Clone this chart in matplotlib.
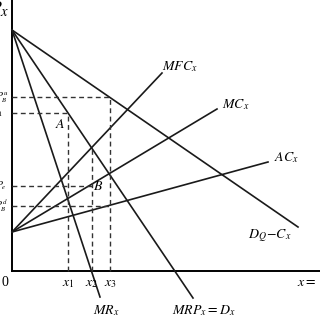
import matplotlib
matplotlib.use("Agg")
from matplotlib import pyplot as plt
import numpy as np

plt.rcParams['mathtext.fontset'] = 'stix'
plt.rcParams['font.family'] = 'Liberation Serif'

# demand side lines start on the price axis at this height
demand_top = 241
# cost side lines start here
cost_base = 39

# end points (x, y) of every line
demand_names = ["$D_Q\\!-\\!C_x$", "$MRP_x = D_x$", "$MR_x$"]
demand_ends = [(286, 44), (181, -27), (88, -26)]
cost_names = ["$MFC_x$", "$MC_x$", "$AC_x$"]
cost_ends = [(150, 198), (205, 162), (256, 109)]

# quantity levels and price levels for the dashed guides
x_levels = [56, 80, 98]
x_tops = [158, 123, 174]
y_levels = [174, 158, 85, 65]
y_rights = [98, 56, 80, 98]

fig = plt.figure(figsize=(3.2, 3.2), dpi=100)
ax = fig.add_axes([0, 0, 1, 1])
ax.set_xlim(-12, 308)
ax.set_ylim(-49, 271)
ax.axis('off')

# axes
ax.plot([0, 0], [0, 272], color='k', lw=1.4, clip_on=False)
ax.plot([0, 310], [0, 0], color='k', lw=1.4, clip_on=False)

for (ex, ey) in demand_ends:
    ax.plot([0, ex], [demand_top, ey], color='#1a1a1a', lw=1.2)
for (ex, ey) in cost_ends:
    ax.plot([0, ex], [cost_base, ey], color='#1a1a1a', lw=1.2)

dash = dict(color='#333333', lw=1.0, linestyle=(0, (3.5, 2.5)))
for xv, top in zip(x_levels, x_tops):
    ax.plot([xv, xv], [0, top], **dash)
for yv, right in zip(y_levels, y_rights):
    ax.plot([0, right], [yv, yv], **dash)

fs = 10
ax.text(150, 204, "$MFC_x$", fontsize=fs, ha='left', va='center')
ax.text(210, 166, "$MC_x$", fontsize=fs, ha='left', va='center')
ax.text(262, 113, "$AC_x$", fontsize=fs, ha='left', va='center')
ax.text(236, 35, demand_names[0], fontsize=fs, ha='left', va='center')
ax.text(192, -40, demand_names[1], fontsize=fs, ha='center', va='center')
ax.text(94, -40, demand_names[2], fontsize=fs, ha='center', va='center')

ax.text(48, 146, "$A$", fontsize=fs, ha='center', va='center')
ax.text(86, 84, "$B$", fontsize=fs, ha='center', va='center')

for i, xv in enumerate(x_levels):
    ax.text(xv, -12, "$x_%d$" % (i + 1), fontsize=fs, ha='center', va='center')
ax.text(285, -12, "$x = $", fontsize=fs, ha='left', va='center')
ax.text(-4, -12, "0", fontsize=fs, ha='right', va='center')

# price labels, mostly cut off by the left edge as in the source figure
ax.text(-3, 262, "$P_x$", fontsize=15, ha='right', va='center')
ax.text(-4, 174, "$P_B^u$", fontsize=7, ha='right', va='center')
ax.text(-8, 158, "$P_1$", fontsize=7, ha='right', va='center')
ax.text(-5, 85, "$P_e$", fontsize=7, ha='right', va='center')
ax.text(-4, 65, "$P_B^d$", fontsize=7, ha='right', va='center')

fig.savefig("out.png", dpi=100)
